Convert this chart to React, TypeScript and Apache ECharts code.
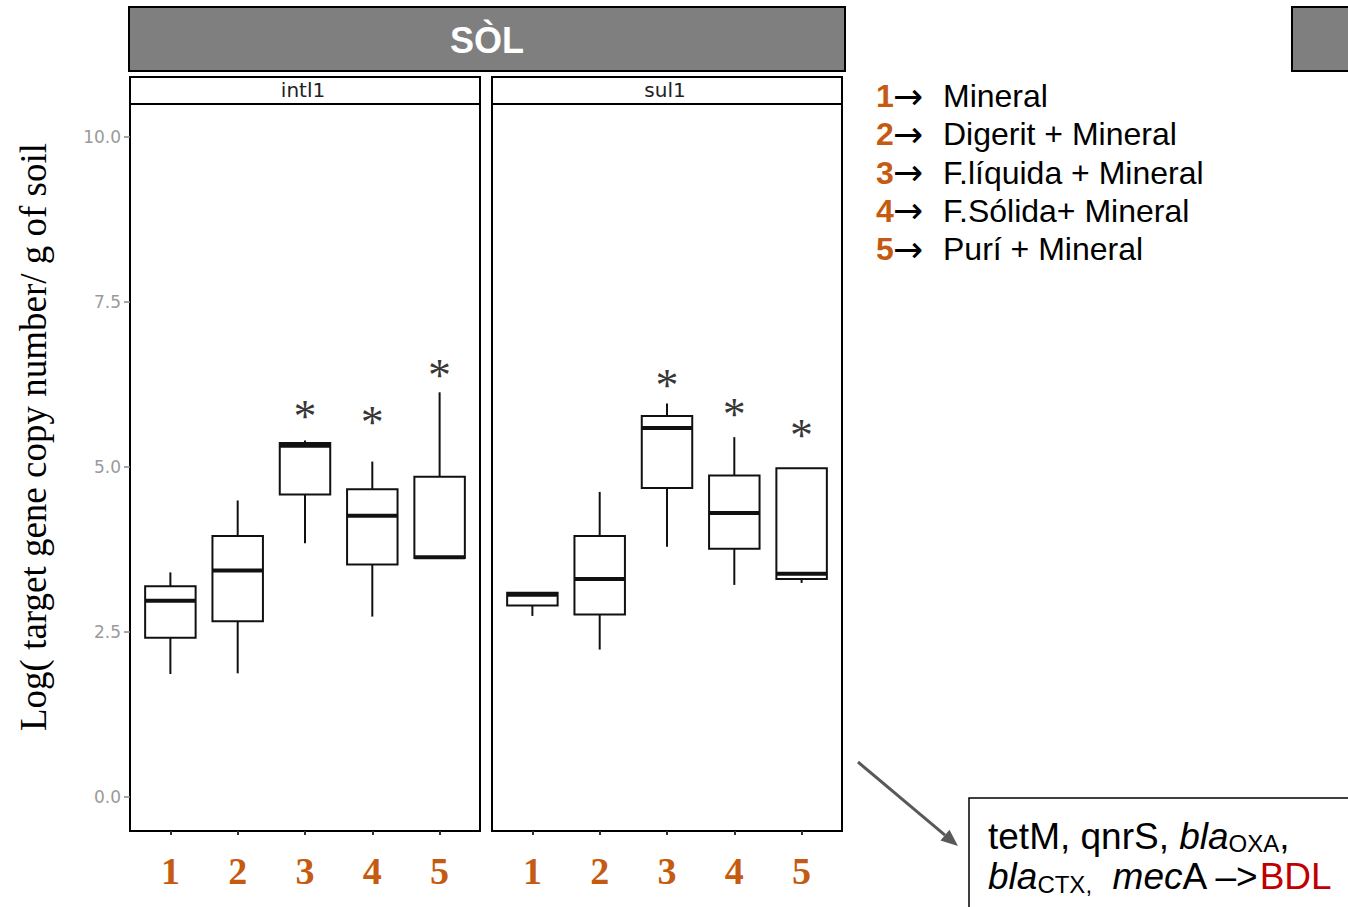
import React, { useEffect, useRef } from "react";
import * as echarts from "echarts";

// ---------- data ----------
const categories = [1, 2, 3, 4, 5];
const xTickLabels = ["1", "2", "3", "4", "5"];
const yTicks = [0, 2.5, 5, 7.5, 10];
const panelNames = ["intl1", "sul1"];
// [min, Q1, median, Q3, max]
const intl1Stats = [
  [1.86, 2.41, 2.97, 3.19, 3.4],
  [1.87, 2.66, 3.43, 3.95, 4.49],
  [3.84, 4.58, 5.32, 5.36, 5.4],
  [2.73, 3.52, 4.26, 4.66, 5.08],
  [3.62, 3.62, 3.63, 4.85, 6.13],
];
const sul1Stats = [
  [2.74, 2.9, 3.06, 3.09, 3.09],
  [2.23, 2.76, 3.3, 3.95, 4.62],
  [3.79, 4.68, 5.59, 5.77, 5.96],
  [3.21, 3.76, 4.3, 4.87, 5.45],
  [3.24, 3.3, 3.38, 4.98, 4.98],
];
// significance asterisk heights (null = none)
const intl1Stars = [null, null, 5.86, 5.76, 6.48];
const sul1Stars = [null, null, 6.32, 5.89, 5.56];
const legendNumbers = ["1", "2", "3", "4", "5"];
const legendLabels = [
  "Mineral",
  "Digerit + Mineral",
  "F.líquida + Mineral",
  "F.Sólida+ Mineral",
  "Purí + Mineral",
];
const headerTitle = "SÒL";
const yTitle = "Log( target gene copy number/ g of soil";

// ---------- style ----------
const ORANGE = "#C55A11";
const SANS = '"Liberation Sans", Arial, sans-serif';
const SERIF = '"Liberation Serif", "Times New Roman", serif';
const BOX_WIDTH = 0.75;
const grids = [
  { left: 130, top: 104, width: 350, height: 727 },
  { left: 492, top: 104, width: 350, height: 727 },
];

const ctx = document.createElement("canvas").getContext("2d")!;
function measure(text: string, font: string) {
  ctx.font = font;
  return ctx.measureText(text).width;
}

function renderBox(params: any, api: any) {
  const x = api.value(0);
  const p = (v: number) => api.coord([x, v]);
  const [cx, yMin] = p(api.value(1));
  const yQ1 = p(api.value(2))[1];
  const yMed = p(api.value(3))[1];
  const yQ3 = p(api.value(4))[1];
  const yMax = p(api.value(5))[1];
  const hw = api.size([BOX_WIDTH / 2, 0])[0];
  const st = { stroke: "#111", lineWidth: 2, fill: null };
  return {
    type: "group",
    children: [
      { type: "line", shape: { x1: cx, y1: yQ3, x2: cx, y2: yMax }, style: st },
      { type: "line", shape: { x1: cx, y1: yQ1, x2: cx, y2: yMin }, style: st },
      {
        type: "rect",
        shape: { x: cx - hw, y: yQ3, width: 2 * hw, height: yQ1 - yQ3 },
        style: { fill: "#fff", stroke: "#111", lineWidth: 2 },
      },
      {
        type: "line",
        shape: { x1: cx - hw, y1: yMed, x2: cx + hw, y2: yMed },
        style: { stroke: "#111", lineWidth: 4 },
      },
    ],
  };
}

function buildGraphics() {
  const g: any[] = [];
  // header
  g.push({
    type: "rect",
    shape: { x: 129, y: 7, width: 716, height: 64 },
    style: { fill: "#7f7f7f", stroke: "#000", lineWidth: 2 },
  });
  g.push({
    type: "text",
    x: 487,
    y: 40,
    style: {
      text: headerTitle,
      font: `bold 36px ${SANS}`,
      fill: "#fff",
      textAlign: "center",
      textVerticalAlign: "middle",
    },
  });
  g.push({
    type: "rect",
    shape: { x: 1292, y: 7, width: 80, height: 64 },
    style: { fill: "#7f7f7f", stroke: "#000", lineWidth: 2 },
  });
  // strips
  grids.forEach((gr, i) => {
    g.push({
      type: "rect",
      shape: { x: gr.left, y: 77, width: gr.width, height: 27 },
      style: { fill: "#fff", stroke: "#000", lineWidth: 2 },
    });
    g.push({
      type: "text",
      x: gr.left + gr.width / 2 - 2,
      y: 90,
      style: {
        text: panelNames[i],
        font: `20px "DejaVu Sans", sans-serif`,
        fill: "#222",
        textAlign: "center",
        textVerticalAlign: "middle",
      },
    });
  });
  // y title
  g.push({
    type: "text",
    x: 33,
    y: 437,
    rotation: Math.PI / 2,
    style: {
      text: yTitle,
      font: `37px ${SERIF}`,
      fill: "#000",
      textAlign: "center",
      textVerticalAlign: "middle",
    },
  });
  // legend
  legendLabels.forEach((lab, i) => {
    const y = 96 + i * 38.3;
    g.push({
      type: "text",
      x: 876,
      y,
      style: {
        text: legendNumbers[i],
        font: `bold 32px ${SANS}`,
        fill: ORANGE,
        textVerticalAlign: "middle",
      },
    });
    g.push({
      type: "text",
      x: 893,
      y,
      style: {
        text: "→",
        font: `36px "DejaVu Sans", sans-serif`,
        fill: "#000",
        textVerticalAlign: "middle",
      },
    });
    g.push({
      type: "text",
      x: 943,
      y,
      style: { text: lab, font: `32px ${SANS}`, fill: "#000", textVerticalAlign: "middle" },
    });
  });
  // arrow
  const tip = [958, 846];
  const dx = 0.766, dy = 0.643;
  const bx = tip[0] - 17 * dx, by = tip[1] - 17 * dy;
  g.push({
    type: "line",
    shape: { x1: 858, y1: 762, x2: bx, y2: by },
    style: { stroke: "#595959", lineWidth: 3 },
  });
  g.push({
    type: "polygon",
    shape: {
      points: [
        tip,
        [bx - 7 * dy, by + 7 * dx],
        [bx + 7 * dy, by - 7 * dx],
      ],
    },
    style: { fill: "#595959" },
  });
  // BDL box
  g.push({
    type: "rect",
    shape: { x: 969, y: 798, width: 400, height: 130 },
    style: { fill: "#fff", stroke: "#000", lineWidth: 1.5 },
  });
  const fMain = `37px ${SANS}`;
  const fIt = `italic 37px ${SANS}`;
  const fSub = `24px ${SANS}`;
  const segs1 = [
    { t: "tetM, qnrS, ", f: fMain, dy: 0, c: "#000" },
    { t: "bla", f: fIt, dy: 0, c: "#000" },
    { t: "OXA", f: fSub, dy: 7, c: "#000" },
    { t: ",", f: fMain, dy: 0, c: "#000" },
  ];
  const segs2 = [
    { t: "bla", f: fIt, dy: 0, c: "#000" },
    { t: "CTX,", f: fSub, dy: 8, c: "#000" },
    { t: "  ", f: fMain, dy: 0, c: "#000" },
    { t: "mec", f: fIt, dy: 0, c: "#000" },
    { t: "A –>", f: fMain, dy: 0, c: "#000" },
    { t: "BDL", f: fMain, dy: 0, c: "#C00000" },
  ];
  [
    [segs1, 836],
    [segs2, 876],
  ].forEach(([segs, y]: any) => {
    let x = 988;
    segs.forEach((s: any) => {
      g.push({
        type: "text",
        x,
        y: y + s.dy,
        style: { text: s.t, font: s.f, fill: s.c, textVerticalAlign: "middle" },
      });
      x += measure(s.t, s.f);
    });
  });
  return g;
}

function buildOption() {
  const statsList = [intl1Stats, sul1Stats];
  const starsList = [intl1Stars, sul1Stars];
  const xAxes = grids.map((_, i) => ({
    type: "value",
    gridIndex: i,
    min: 0.4,
    max: 5.6,
    position: "bottom",
    splitLine: { show: false },
    axisLine: { show: false, onZero: false },
    axisTick: {
      show: true,
      customValues: categories,
      length: 4,
      lineStyle: { color: "#333", width: 2 },
    },
    axisLabel: {
      show: true,
      customValues: categories,
      formatter: (v: number) => xTickLabels[categories.indexOf(v)] ?? "",
      color: ORANGE,
      fontFamily: SERIF,
      fontWeight: "bold",
      fontSize: 38,
      margin: 21,
    },
  }));
  const yAxes = grids.map((_, i) => ({
    type: "value",
    gridIndex: i,
    min: -0.52,
    max: 10.5,
    splitLine: { show: false },
    axisLine: { show: false, onZero: false },
    axisTick: {
      show: i === 0,
      customValues: yTicks,
      length: 6,
      lineStyle: { color: "#888", width: 1.5 },
    },
    axisLabel: {
      show: i === 0,
      customValues: yTicks,
      formatter: (v: number) => v.toFixed(1),
      color: "#9a9a9a",
      fontFamily: '"DejaVu Sans", sans-serif',
      fontSize: 17,
      margin: 9,
    },
  }));
  const series: any[] = [];
  grids.forEach((_, i) => {
    series.push({
      type: "custom",
      xAxisIndex: i,
      yAxisIndex: i,
      renderItem: renderBox,
      encode: { x: 0, y: [1, 2, 3, 4, 5] },
      data: categories.map((c, k) => [c, ...statsList[i][k]]),
      z: 3,
    });
    series.push({
      type: "scatter",
      xAxisIndex: i,
      yAxisIndex: i,
      symbolSize: 1,
      itemStyle: { color: "rgba(0,0,0,0)" },
      data: categories
        .map((c, k) => (starsList[i][k] == null ? null : [c, starsList[i][k]]))
        .filter((d) => d),
      label: {
        show: true,
        position: "inside",
        formatter: "*",
        fontFamily: SERIF,
        fontSize: 46,
        color: "#000",
        offset: [0, 6],
      },
      z: 4,
    });
  });
  return {
    animation: false,
    backgroundColor: "#fff",
    grid: grids.map((g) => ({
      ...g,
      show: true,
      borderColor: "#000",
      borderWidth: 2,
      backgroundColor: "#fff",
      containLabel: false,
    })),
    xAxis: xAxes,
    yAxis: yAxes,
    series,
    graphic: buildGraphics(),
  };
}

export default function App() {
  const ref = useRef<HTMLDivElement>(null);
  useEffect(() => {
    const chart = echarts.init(ref.current!, null, { renderer: "svg" });
    chart.setOption(buildOption() as any);
    return () => chart.dispose();
  }, []);
  return (
    <div
      ref={ref}
      style={{ position: "fixed", left: 0, top: 0, width: 1348, height: 907, background: "#fff" }}
    />
  );
}
